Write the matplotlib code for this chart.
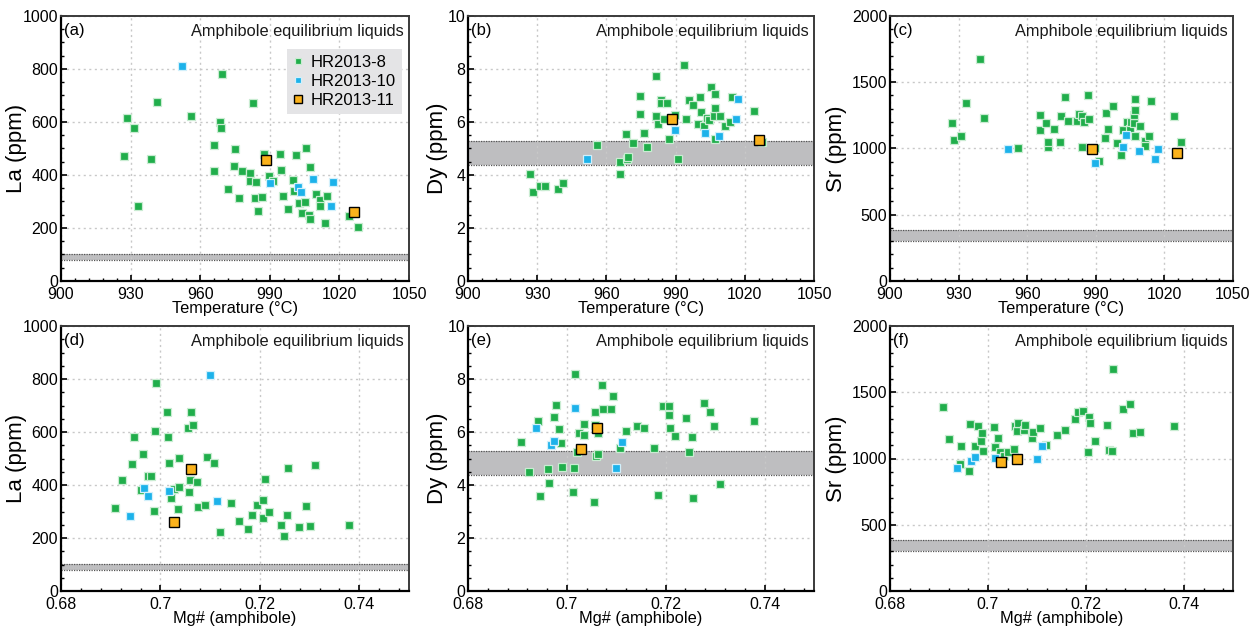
import matplotlib
matplotlib.use("Agg")
import matplotlib.pyplot as plt
from matplotlib.ticker import MultipleLocator

plt.rcParams["font.family"] = ["Liberation Sans", "DejaVu Sans"]

# ---- Temperature (deg C) vs La (ppm) ----
a_T_8 = [927.1, 928.3, 931.3, 933.2, 939.0, 941.2, 956.0, 969.6, 968.5, 969.0, 966.0, 965.9,
         974.8, 974.6, 977.9, 972.1, 976.6, 982.7, 981.5, 981.6, 983.9, 983.7, 986.6, 984.8,
         987.4, 989.6, 991.4, 994.3, 994.7, 995.9, 997.7, 999.8, 1000.6, 1001.3, 1002.6,
         1005.1, 1003.8, 1005.8, 1007.2, 1006.8, 1007.2, 1009.7, 1011.8, 1011.8, 1014.7,
         1013.7, 1024.3, 1027.9]
a_La_8 = [473, 615, 579, 284, 460, 675, 624, 782, 601, 577, 514, 416,
          498, 435, 416, 348, 313, 673, 408, 377, 374, 314, 317, 263,
          480, 395, 377, 480, 420, 322, 273, 381, 341, 477, 294,
          299, 258, 503, 431, 248, 234, 330, 306, 283, 322,
          220, 245, 204]
a_T_10 = [952.0, 990.0, 1002.2, 1003.5, 1008.8, 1017.4, 1016.3]
a_La_10 = [813, 370, 356, 337, 386, 375, 282]
a_T_11 = [988.4, 1026.3]
a_La_11 = [458, 259]

# ---- Temperature vs Dy (ppm) ----
b_T_8 = [927.0, 928.0, 931.1, 933.4, 938.9, 941.0, 955.8, 965.8, 965.8, 969.0, 969.2, 968.4,
         971.6, 974.4, 974.6, 976.2, 977.7, 981.4, 981.4, 982.5, 983.7, 983.7, 984.8, 986.4,
         987.1, 989.6, 991.2, 993.8, 994.5, 995.7, 997.7, 999.6, 1000.7, 1000.9, 1002.2,
         1003.6, 1004.6, 1005.5, 1006.5, 1007.2, 1007.1, 1007.1, 1009.4, 1011.6, 1013.6,
         1014.3, 1024.1, 1027.6]
b_Dy_8 = [4.03, 3.34, 3.57, 3.60, 3.47, 3.71, 5.14, 4.49, 4.05, 4.59, 4.69, 5.56,
          5.22, 6.99, 6.31, 5.60, 5.06, 7.74, 6.23, 5.94, 6.83, 6.73, 6.13, 6.73,
          5.37, 6.26, 4.59, 8.14, 6.13, 6.83, 6.63, 5.94, 6.96, 6.39, 5.85,
          6.16, 6.08, 7.33, 6.23, 7.04, 6.54, 5.37, 6.23, 5.86, 6.00,
          6.96, 6.42, 5.23]
b_T_10 = [951.6, 989.6, 1002.9, 1008.7, 1016.0, 1017.2]
b_Dy_10 = [4.59, 5.70, 5.60, 5.48, 6.13, 6.87]
b_T_11 = [988.3, 1026.0]
b_Dy_11 = [6.13, 5.32]

# ---- Temperature vs Sr (ppm) ----
c_T_8 = [927.1, 928.1, 931.0, 933.2, 939.3, 941.1, 955.8, 965.8, 965.8, 968.4, 968.9, 969.3,
         971.8, 974.4, 974.6, 976.5, 977.8, 981.6, 982.6, 984.0, 984.8, 983.9, 986.5, 987.2,
         989.6, 991.3, 993.9, 994.5, 995.5, 997.7, 999.3, 1000.9, 1001.9, 1003.7, 1004.9,
         1005.6, 1006.5, 1006.6, 1007.1, 1007.3, 1007.1, 1009.5, 1011.3, 1011.5, 1013.4,
         1014.2, 1024.1, 1027.4]
c_Sr_8 = [1190, 1067, 1092, 1347, 1672, 1233, 1006, 1137, 1256, 1190, 1014, 1052,
          1150, 1047, 1243, 1390, 1206, 1208, 1264, 1248, 1203, 1014, 1403, 1226,
          1006, 905, 1082, 1266, 1145, 1319, 1042, 953, 1140, 1200, 1145,
          1203, 1193, 1253, 1092, 1374, 1294, 1168, 1054, 1016, 1092,
          1357, 1243, 1052]
c_T_10 = [951.6, 989.7, 1002.1, 1003.1, 1008.8, 1015.9, 1017.2]
c_Sr_10 = [994, 888, 1014, 1100, 979, 923, 999]
c_T_11 = [988.2, 1025.7]
c_Sr_11 = [999, 968]

# ---- Mg# (amphibole) vs La ----
d_Mg_8 = [0.6909, 0.6923, 0.6943, 0.6947, 0.6964, 0.6961, 0.6974, 0.6982, 0.6987, 0.6989,
          0.6992, 0.7014, 0.7016, 0.7017, 0.7022, 0.7028, 0.7035, 0.7038, 0.7037, 0.7055,
          0.7057, 0.7059, 0.7062, 0.7065, 0.7073, 0.7075, 0.7090, 0.7093, 0.7107, 0.7120,
          0.7142, 0.7159, 0.7177, 0.7185, 0.7194, 0.7206, 0.7207, 0.7211, 0.7219, 0.7242,
          0.7248, 0.7255, 0.7256, 0.7278, 0.7292, 0.7300, 0.7310, 0.7380]
d_La_8 = [313, 420, 481, 581, 517, 380, 434, 435, 302, 604,
          784, 675, 580, 484, 350, 384, 308, 502, 392, 616,
          375, 418, 675, 626, 410, 317, 326, 506, 483, 221,
          331, 264, 234, 287, 325, 342, 274, 423, 297, 250,
          206, 287, 463, 242, 319, 247, 474, 249]
d_Mg_10 = [0.6938, 0.6967, 0.6974, 0.7017, 0.7099, 0.7113]
d_La_10 = [283, 389, 358, 376, 815, 338]
d_Mg_11 = [0.7028, 0.7061]
d_La_11 = [260, 459]

# ---- Mg# vs Dy ----
e_Mg_8 = [0.6908, 0.6923, 0.6942, 0.6946, 0.6961, 0.6963, 0.6973, 0.6979, 0.6985, 0.6989,
          0.6990, 0.7013, 0.7015, 0.7016, 0.7021, 0.7025, 0.7035, 0.7035, 0.7054, 0.7056,
          0.7058, 0.7057, 0.7062, 0.7064, 0.7072, 0.7074, 0.7089, 0.7094, 0.7107, 0.7119,
          0.7141, 0.7157, 0.7176, 0.7184, 0.7194, 0.7206, 0.7207, 0.7208, 0.7219, 0.7242,
          0.7247, 0.7254, 0.7255, 0.7277, 0.7290, 0.7298, 0.7309, 0.7379]
e_Dy_8 = [5.62, 4.50, 6.42, 3.58, 4.62, 4.08, 6.57, 7.01, 6.10, 5.57,
          4.69, 3.72, 4.63, 8.18, 5.23, 5.96, 6.30, 5.87, 3.35, 6.74,
          5.08, 6.25, 5.96, 5.16, 7.77, 6.87, 6.87, 7.35, 5.40, 6.04,
          6.24, 6.16, 5.40, 3.62, 6.97, 6.97, 6.65, 6.15, 5.85, 6.52,
          5.26, 5.82, 3.50, 7.08, 6.74, 6.23, 4.04, 6.42]
e_Mg_10 = [0.6937, 0.6968, 0.6973, 0.7016, 0.7099, 0.7111]
e_Dy_10 = [6.15, 5.52, 5.67, 6.89, 4.63, 5.62]
e_Mg_11 = [0.7028, 0.7060]
e_Dy_11 = [5.36, 6.15]

# ---- Mg# vs Sr ----
f_Mg_8 = [0.6908, 0.6921, 0.6945, 0.6943, 0.6961, 0.6963, 0.6973, 0.6980, 0.6985, 0.6988,
          0.6989, 0.7012, 0.7015, 0.7020, 0.7025, 0.7033, 0.7040, 0.7054, 0.7056, 0.7059,
          0.7062, 0.7073, 0.7075, 0.7089, 0.7092, 0.7106, 0.7119, 0.7141, 0.7158, 0.7177,
          0.7184, 0.7194, 0.7206, 0.7209, 0.7205, 0.7219, 0.7242, 0.7247, 0.7254, 0.7256,
          0.7276, 0.7290, 0.7295, 0.7310, 0.7379]
f_Sr_8 = [1391, 1147, 1097, 958, 908, 1263, 1092, 1248, 1135, 1195,
          1059, 1240, 1084, 1157, 1052, 1021, 1052, 1074, 1245, 1210,
          1270, 1218, 1253, 1155, 1202, 1230, 1099, 1175, 1213, 1301,
          1348, 1361, 1316, 1268, 1049, 1135, 1253, 1064, 1054, 1675,
          1376, 1411, 1195, 1197, 1245]
f_Mg_10 = [0.6936, 0.6966, 0.6973, 0.7014, 0.7099, 0.7111]
f_Sr_10 = [928, 984, 1014, 1004, 996, 1097]
f_Mg_11 = [0.7026, 0.7060]
f_Sr_11 = [974, 999]

# host-rock ranges (gray bands)
la_band = (78, 102)
dy_band = (4.38, 5.30)
sr_band = (300, 385)

labels = ["HR2013-8", "HR2013-10", "HR2013-11"]
green, blue, orange = "#20ae4b", "#1cb2ea", "#fbb21c"

fig = plt.figure(figsize=(12.6, 6.29), dpi=100)
W, H = 1260, 629


def add_ax(l, r, t, b):
    return fig.add_axes([l / W, 1 - b / H, (r - l) / W, (b - t) / H])


def panel(ax, tag, s8, s10, s11, band, xlim, ylim, xmaj, xmin, ymaj, ymin, xlabel, ylabel,
          ylab_x, xticks_fmt=None):
    ax.grid(True, color="#c8c8c8", linestyle=(0, (1.5, 2.5)), linewidth=1.0, zorder=0)
    ax.axhspan(band[0], band[1], facecolor="#bebec0", edgecolor="none", zorder=1)
    for yb in band:
        ax.axhline(yb, color="#555555", linestyle=(0, (1, 1)), linewidth=0.9, zorder=1.5)
    h8, = ax.plot(s8[0], s8[1], "s", ms=5.6, color=green, mec="#c9ecd2", mew=0.9,
                  linestyle="none", zorder=3)
    h10, = ax.plot(s10[0], s10[1], "s", ms=5.6, color=blue, mec="#d2f0fb", mew=0.9,
                   linestyle="none", zorder=3)
    h11, = ax.plot(s11[0], s11[1], "s", ms=6.8, color=orange, mec="black", mew=1.0,
                   linestyle="none", zorder=4)
    ax.set_xlim(*xlim)
    ax.set_ylim(*ylim)
    ax.xaxis.set_major_locator(MultipleLocator(xmaj))
    ax.xaxis.set_minor_locator(MultipleLocator(xmin))
    ax.yaxis.set_major_locator(MultipleLocator(ymaj))
    ax.yaxis.set_minor_locator(MultipleLocator(ymin))
    if xticks_fmt:
        ax.set_xticks(xticks_fmt[0])
        ax.set_xticklabels(xticks_fmt[1])
    ax.tick_params(which="major", direction="in", length=4, width=1.2, labelsize=11.5,
                   top=False, right=False)
    ax.tick_params(axis="y", which="major", pad=2)
    ax.tick_params(axis="x", which="major", pad=4)
    ax.tick_params(which="minor", direction="in", length=2.5, width=1.0, top=False, right=False)
    for side in ("left", "bottom"):
        ax.spines[side].set_linewidth(1.6)
        ax.spines[side].set_color("black")
    for side in ("top", "right"):
        ax.spines[side].set_linewidth(1.4)
        ax.spines[side].set_color("#3a3a3a")
    ax.set_xlabel(xlabel, fontsize=11.8, labelpad=-0.5)
    ax.set_ylabel(ylabel, fontsize=16)
    ax.yaxis.set_label_coords(ylab_x, 0.5)
    ax.text(0.008, 0.945, tag, transform=ax.transAxes, ha="left", va="center", fontsize=12)
    ax.text(0.985, 0.94, "Amphibole equilibrium liquids", transform=ax.transAxes,
            ha="right", va="center", fontsize=11.8, color="#1a1a1a")
    return [h8, h10, h11]


mg_ticks = ([0.68, 0.70, 0.72, 0.74], ["0.68", "0.7", "0.72", "0.74"])

ax_a = add_ax(61, 409, 16, 281)
ax_b = add_ax(468, 814, 16, 281)
ax_c = add_ax(890, 1233, 16, 281)
ax_d = add_ax(61, 409, 326, 591)
ax_e = add_ax(468, 814, 326, 591)
ax_f = add_ax(890, 1233, 326, 591)

handles = panel(ax_a, "(a)", (a_T_8, a_La_8), (a_T_10, a_La_10), (a_T_11, a_La_11), la_band,
                (900, 1050), (0, 1000), 30, 6, 200, 50, "Temperature (°C)", "La (ppm)", -0.098)
panel(ax_b, "(b)", (b_T_8, b_Dy_8), (b_T_10, b_Dy_10), (b_T_11, b_Dy_11), dy_band,
      (900, 1050), (0, 10), 30, 6, 2, 0.5, "Temperature (°C)", "Dy (ppm)", -0.058)
panel(ax_c, "(c)", (c_T_8, c_Sr_8), (c_T_10, c_Sr_10), (c_T_11, c_Sr_11), sr_band,
      (900, 1050), (0, 2000), 30, 6, 500, 100, "Temperature (°C)", "Sr (ppm)", -0.125)
panel(ax_d, "(d)", (d_Mg_8, d_La_8), (d_Mg_10, d_La_10), (d_Mg_11, d_La_11), la_band,
      (0.68, 0.75), (0, 1000), 0.02, 0.004, 200, 50, "Mg# (amphibole)", "La (ppm)", -0.098,
      mg_ticks)
panel(ax_e, "(e)", (e_Mg_8, e_Dy_8), (e_Mg_10, e_Dy_10), (e_Mg_11, e_Dy_11), dy_band,
      (0.68, 0.75), (0, 10), 0.02, 0.004, 2, 0.5, "Mg# (amphibole)", "Dy (ppm)", -0.058,
      mg_ticks)
panel(ax_f, "(f)", (f_Mg_8, f_Sr_8), (f_Mg_10, f_Sr_10), (f_Mg_11, f_Sr_11), sr_band,
      (0.68, 0.75), (0, 2000), 0.02, 0.004, 500, 100, "Mg# (amphibole)", "Sr (ppm)", -0.125,
      mg_ticks)

leg = ax_a.legend(handles, labels, loc="upper right", bbox_to_anchor=(0.98, 0.876),
                  borderaxespad=0, fontsize=12, frameon=True, fancybox=False, framealpha=1,
                  facecolor="#e4e4e6", edgecolor="none", handlelength=0.6,
                  handletextpad=0.45, borderpad=0.38, labelspacing=0.22, markerscale=0.85)

fig.savefig("out.png", dpi=100)
